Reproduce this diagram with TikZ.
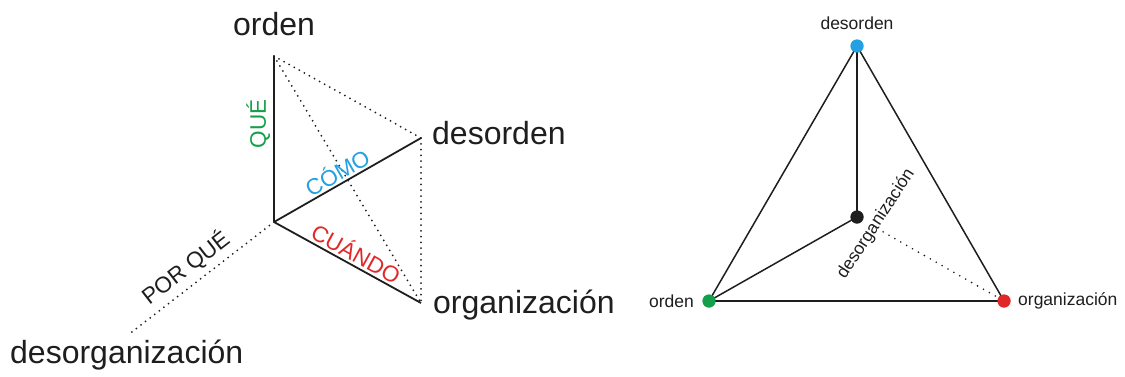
\documentclass[tikz,border=0pt]{standalone}
\usepackage{fontspec}
\setmainfont{Liberation Sans}
\definecolor{qgreen}{RGB}{20,160,75}
\definecolor{qblue}{RGB}{35,160,225}
\definecolor{qred}{RGB}{225,40,40}
\definecolor{ink}{RGB}{30,30,30}
\tikzset{
  axis/.style={draw=ink, line width=1.8pt},
  edge/.style={draw=ink, line width=1.5pt},
  dots/.style={draw=ink, line width=2pt, line cap=round, dash pattern=on 0pt off 5.8pt},
  bigword/.style={font=\fontsize{32}{36}\selectfont, text=ink, inner sep=0pt},
  smallword/.style={font=\fontsize{17.5}{20}\selectfont, text=ink, inner sep=0pt},
  axislabel/.style={font=\fontsize{22.5}{25}\selectfont, inner sep=2pt},
  dot/.style={circle, minimum size=13pt, inner sep=0pt},
}
\begin{document}
\begin{tikzpicture}[x=1pt, y=-1pt]
\useasboundingbox (0,0) rectangle (1125,376);

% ---------- left: three axes ----------
\coordinate (A) at (274,56);
\coordinate (O) at (274,222);
\coordinate (D) at (421,138);
\coordinate (G) at (421,303);
\coordinate (W) at (128,335);

\node[bigword, anchor=base] (tOrden) at (274,35) {orden};
\node[bigword, anchor=base west] (tDes) at (432,144) {desorden};
\node[bigword, anchor=base west] (tOrg) at (433,313) {organización};
\node[bigword, anchor=base west] (tDesorg) at (10,363) {desorganización};

\draw[dots] (A) -- (D);
\draw[dots] (A) -- (G);
\draw[dots] (D) -- (G);
\draw[dots] (O) -- (W)
  node[pos=0.53, sloped, above=3pt, axislabel, text=ink] {POR QUÉ};

\draw[axis] (O) -- (A)
  node[pos=0.59, sloped, above=1pt, axislabel, text=qgreen] {QUÉ};
\draw[axis] (O) -- (D)
  node[pos=0.47, sloped, above=0pt, axislabel, text=qblue] {CÓMO};
\draw[axis] (O) -- (G)
  node[pos=0.52, sloped, above=0pt, axislabel, text=qred] {CUÁNDO};

% ---------- right: tetrahedron seen from above ----------
\node[dot, fill=qblue] (B) at (857,46) {};
\node[dot, fill=ink] (C) at (857,217) {};
\node[dot, fill=qgreen] (Gr) at (709,301) {};
\node[dot, fill=qred] (R) at (1004,301) {};

\draw[edge] (B.center) -- (Gr.center);
\draw[edge] (B.center) -- (R.center);
\draw[edge] (Gr.center) -- (R.center);
\draw[edge] (B.center) -- (C.center);
\draw[edge] (Gr.center) -- (C.center);
\draw[dots, line width=1.8pt, dash pattern=on 0pt off 6.8pt, shorten <=30pt, shorten >=6pt] (C.center) -- (R.center);

\node[dot, fill=qblue] at (B) {};
\node[dot, fill=ink] at (C) {};
\node[dot, fill=qgreen] at (Gr) {};
\node[dot, fill=qred] at (R) {};

\node[smallword, anchor=base] (lDes) at (857,29) {desorden};
\node[smallword, anchor=base east] (lOrd) at (694,307) {orden};
\node[smallword, anchor=base west] (lOrg) at (1018,305) {organización};
\node[smallword, rotate=57] (lDesorg) at (876,224) {desorganización};
\end{tikzpicture}
\end{document}
